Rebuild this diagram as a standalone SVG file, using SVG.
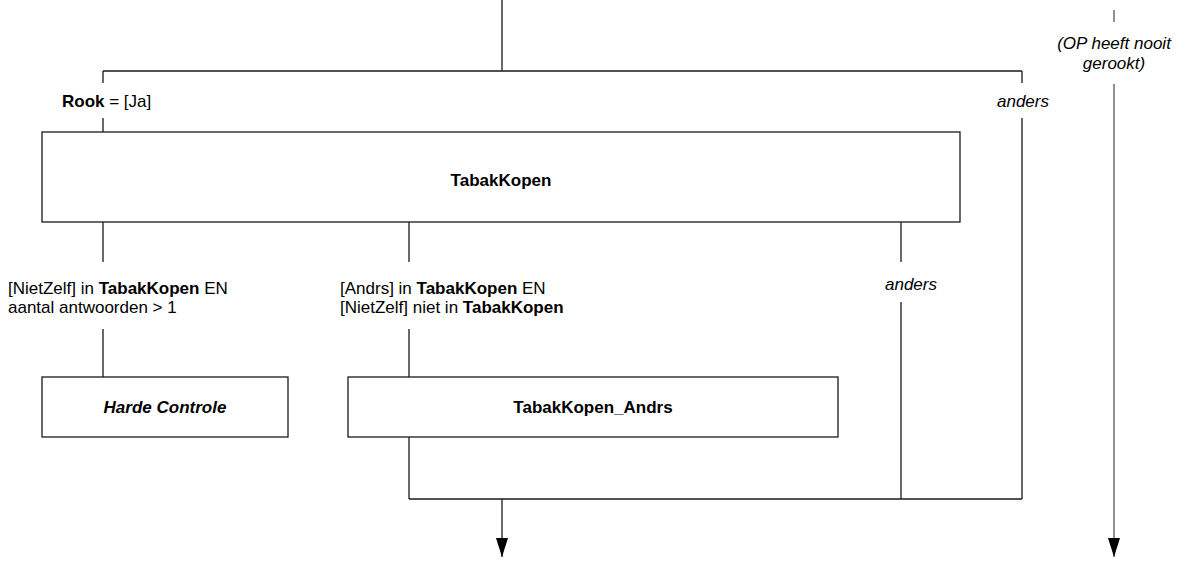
<svg xmlns="http://www.w3.org/2000/svg" width="1184" height="561" viewBox="0 0 1184 561">
<style>
  text { font-family: "Liberation Sans", Arial, sans-serif; font-size: 17px; fill: #000; }
  .b { font-weight: bold; }
  .i { font-style: italic; }
  .box { fill: #fff; stroke: #1a1a1a; stroke-width: 1.3; }
  .ln { fill: none; stroke: #1a1a1a; stroke-width: 1.3; }
  .gl { fill: none; stroke: #555; stroke-width: 1.3; }
</style>
<defs>
  <marker id="arr" markerUnits="userSpaceOnUse" markerWidth="12" markerHeight="20" refX="6" refY="19" orient="auto" viewBox="0 0 12 20">
    <path d="M0,0 L12,0 L6,19 Z" fill="#000" transform="rotate(0)"/>
  </marker>
  <marker id="arrd" markerUnits="userSpaceOnUse" markerWidth="20" markerHeight="12" refX="19" refY="6" orient="auto" viewBox="0 0 20 12">
    <path d="M0,0 L19,6 L0,12 Z" fill="#000"/>
  </marker>
</defs>
<g id="connectors">
  <path class="ln" d="M502,0 V71 M103,71 H1022"/>
  <path class="ln" d="M103,71 V83 M103,118 V132"/>
  <path class="ln" d="M1022,71 V83 M1022,118 V499"/>
  <path class="ln" d="M103,222 V262 M103,329 V377"/>
  <path class="ln" d="M409,222 V262 M409,329 V377 M409,437 V499"/>
  <path class="ln" d="M901,222 V262 M901,302 V499"/>
  <path class="ln" d="M409,499 H1022"/>
  <path class="ln" d="M502,499 V557" marker-end="url(#arrd)"/>
  <path class="gl" d="M1114,10 V22"/>
  <path class="gl" d="M1114,84 V557" marker-end="url(#arrd)"/>
  <text x="62" y="107"><tspan class="b">Rook</tspan> = [Ja]</text>
  <text x="1023" y="107" text-anchor="middle" class="i">anders</text>
  <text x="1114" y="49" text-anchor="middle" class="i">(OP heeft nooit</text>
  <text x="1114" y="69" text-anchor="middle" class="i">gerookt)</text>
  <text x="8" y="294">[NietZelf] in <tspan class="b">TabakKopen</tspan> EN</text>
  <text x="8" y="313">aantal antwoorden &gt; 1</text>
  <text x="340" y="294">[Andrs] in <tspan class="b">TabakKopen</tspan> EN</text>
  <text x="340" y="313">[NietZelf] niet in <tspan class="b">TabakKopen</tspan></text>
  <text x="911" y="290" text-anchor="middle" class="i">anders</text>
</g>
<g id="node-tabakkopen">
  <rect class="box" x="42" y="132" width="918" height="90"/>
  <text x="501" y="186" text-anchor="middle" class="b">TabakKopen</text>
</g>
<g id="node-harde-controle">
  <rect class="box" x="42" y="377" width="246" height="60"/>
  <text x="165" y="413" text-anchor="middle" class="b i">Harde Controle</text>
</g>
<g id="node-tabakkopen-andrs">
  <rect class="box" x="348" y="377" width="490" height="60"/>
  <text x="593" y="413" text-anchor="middle" class="b">TabakKopen_Andrs</text>
</g>
</svg>
